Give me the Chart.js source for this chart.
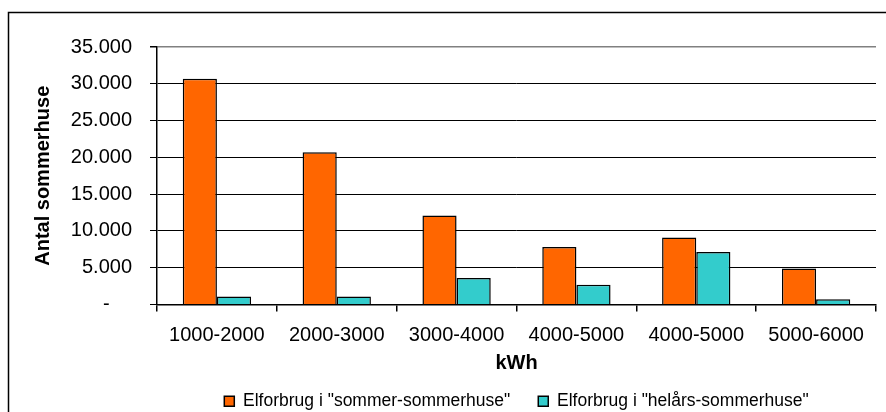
<!DOCTYPE html>
<html lang="da">
<head>
    <meta charset="UTF-8">
    <title>Elforbrug i sommerhuse</title>
    <script src="https://cdn.jsdelivr.net/npm/chart.js"></script>
    <style>
        body {
            margin: 0;
            padding: 0;
            background: #fff;
        }
        #wrap {
            width: 886px;
            height: 412px;
        }
    </style>
</head>
<body>
<div id="wrap"><canvas id="myChart" width="886" height="412"></canvas></div>
<script>
    // kWh-intervaller
    const categories = ['1000-2000', '2000-3000', '3000-4000', '4000-5000', '4000-5000', '5000-6000'];
    // antal sommerhuse pr. interval
    const sommerSommerhuse = [30700, 20700, 12100, 7800, 9100, 4900];
    const helaarsSommerhuse = [1100, 1100, 3600, 2700, 7150, 700];
    const yMin = 0;
    const yMax = 35000;
    const yStep = 5000;

    Chart.defaults.font.family = "'Liberation Sans', Arial, sans-serif";
    Chart.defaults.color = '#000';

    function formatDk(v) {
        if (v === 0) return '-    ';
        return String(v).replace(/\B(?=(\d{3})+(?!\d))/g, '.');
    }

    // ramme rundt om diagrammet
    const frame = {
        id: 'frame',
        beforeDraw(chart) {
            const c = chart.ctx;
            c.save();
            c.fillStyle = '#fff';
            c.fillRect(0, 0, chart.width, chart.height);
            c.strokeStyle = '#000';
            c.lineWidth = 1.5;
            c.strokeRect(8.5, 12.5, 1000, 1000);
            c.restore();
        }
    };

    const ctx = document.getElementById('myChart').getContext('2d');
    const myChart = new Chart(ctx, {
        type: 'bar',
        data: {
            labels: categories,
            datasets: [
                {
                    label: 'Elforbrug i "sommer-sommerhuse"',
                    data: sommerSommerhuse,
                    backgroundColor: '#FF6600',
                    borderColor: '#000',
                    borderWidth: 1.5
                },
                {
                    label: 'Elforbrug i "helårs-sommerhuse"',
                    data: helaarsSommerhuse,
                    backgroundColor: '#33CCCC',
                    borderColor: '#000',
                    borderWidth: 1.5
                }
            ]
        },
        options: {
            responsive: false,
            animation: false,
            categoryPercentage: 0.57,
            barPercentage: 1,
            layout: {
                padding: { left: 0, top: 47, right: 10, bottom: -8 }
            },
            scales: {
                x: {
                    afterFit(scale) { scale.height = 60; },
                    border: { color: '#000', width: 1.5 },
                    grid: {
                        offset: true,
                        drawOnChartArea: true,
                        color: (c) => c.index === categories.length ? '#808080' : 'rgba(0,0,0,0)',
                        lineWidth: 1.5,
                        tickColor: '#000',
                        tickLength: 7,
                        tickWidth: 1.5
                    },
                    ticks: {
                        font: { size: 20 },
                        padding: 12,
                        maxRotation: 0,
                        autoSkip: false
                    },
                    title: {
                        display: true,
                        text: 'kWh',
                        font: { size: 20, weight: 'bold' },
                        padding: { top: 0, bottom: -11 }
                    }
                },
                y: {
                    min: yMin,
                    max: yMax,
                    afterFit(scale) { scale.width = 157; },
                    border: { color: '#000', width: 1.5 },
                    grid: {
                        color: (c) => c.tick && c.tick.value === yMax ? '#808080' : '#000',
                        lineWidth: (c) => c.tick && c.tick.value === yMax ? 1.5 : 1,
                        tickColor: '#000',
                        tickLength: 7
                    },
                    ticks: {
                        stepSize: yStep,
                        font: { size: 20 },
                        padding: 18,
                        callback: (v) => formatDk(v)
                    },
                    title: {
                        display: true,
                        text: 'Antal sommerhuse',
                        font: { size: 20, weight: 'bold' },
                        padding: { top: 31, bottom: 0 }
                    }
                }
            },
            plugins: {
                legend: {
                    display: true,
                    position: 'bottom',
                    fullSize: false,
                    labels: {
                        boxWidth: 10,
                        boxHeight: 10,
                        padding: 28,
                        font: { size: 17.5 }
                    }
                },
                tooltip: { enabled: false }
            }
        },
        plugins: [frame]
    });
</script>
</body>
</html>
